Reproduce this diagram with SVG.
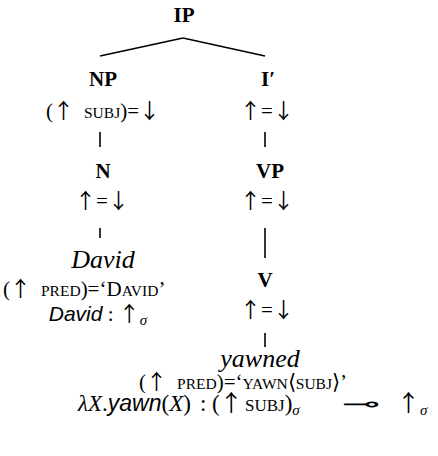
<svg xmlns="http://www.w3.org/2000/svg" width="438" height="456" viewBox="0 0 438 456">
<style>
text{font-family:"Liberation Serif","Times New Roman",serif;fill:#000;text-anchor:middle;font-size:21px}
.cat{font-size:21px;font-weight:bold}
.sc{font-size:15.5px}
.ar{font-family:"Noto Sans CJK JP","Noto Sans",sans-serif;font-size:21px}
.lex{font-style:italic;font-size:26px}
.sans{font-family:"Liberation Sans",Arial,sans-serif;font-style:italic}
.it{font-style:italic}
.sub{font-size:15px;font-style:italic}
.lolli{font-family:"DejaVu Sans",sans-serif;font-size:21px}
.lam{text-anchor:start;font-size:23px}
.lam .sc{font-size:17px}
.lam .ar{font-size:23px}
line{stroke:#000;stroke-width:1.6}
</style>
<rect width="438" height="456" fill="#fff"/>
<g id="connectors">
<line x1="183" y1="38" x2="100" y2="56"/>
<line x1="183" y1="38" x2="265" y2="56"/>
<line x1="100" y1="132" x2="100" y2="147"/>
<line x1="265" y1="132" x2="265" y2="147"/>
<line x1="100" y1="228" x2="100" y2="238"/>
<line x1="265" y1="228" x2="265" y2="258"/>
<line x1="265" y1="333" x2="265" y2="347"/>
</g>
<g id="IP"><text class="cat" x="184" y="22">IP</text></g>
<g id="NP"><text class="cat" x="103" y="86">NP</text>
<text x="103" y="118">(<tspan class="ar">↑</tspan><tspan class="sc" dx="10">SUBJ</tspan>)=<tspan class="ar">↓</tspan></text></g>
<g id="Ibar"><text class="cat" x="268" y="86">I′</text>
<text x="267" y="118"><tspan class="ar">↑</tspan>=<tspan class="ar">↓</tspan></text></g>
<g id="N"><text class="cat" x="103" y="178">N</text>
<text x="102" y="208"><tspan class="ar">↑</tspan>=<tspan class="ar">↓</tspan></text></g>
<g id="VP"><text class="cat" x="270" y="178">VP</text>
<text x="267" y="208"><tspan class="ar">↑</tspan>=<tspan class="ar">↓</tspan></text></g>
<g id="David"><text class="lex" x="103" y="268">David</text>
<text x="3" y="296" style="text-anchor:start">(<tspan class="ar">↑</tspan><tspan class="sc" dx="10">PRED</tspan>)=‘D<tspan class="sc">AVID</tspan>’</text>
<text x="98" y="321"><tspan class="sans">David</tspan> : <tspan class="ar">↑</tspan><tspan class="sub" dy="4">σ</tspan></text></g>
<g id="V"><text class="cat" x="265" y="287">V</text>
<text x="267" y="317"><tspan class="ar">↑</tspan>=<tspan class="ar">↓</tspan></text></g>
<g id="yawned"><text class="lex" x="260" y="367">yawned</text>
<text x="243" y="389">(<tspan class="ar">↑</tspan><tspan class="sc" dx="10">PRED</tspan>)=‘<tspan class="sc">YAWN</tspan>⟨<tspan class="sc">SUBJ</tspan>⟩’</text>
<text class="lam" x="78" y="411"><tspan class="it">λX</tspan>.<tspan class="sans">yawn</tspan>(<tspan class="it">X</tspan>)<tspan x="200">:</tspan><tspan x="212">(</tspan><tspan class="ar">↑</tspan><tspan class="sc" x="245">SUBJ</tspan>)<tspan class="sub" dy="4">σ</tspan><tspan class="ar" x="397" dy="-4">↑</tspan><tspan class="sub" dy="4">σ</tspan></text>
<text class="lolli" transform="translate(361,411) scale(2.2,1)" x="0" y="0">⊸</text></g>
</svg>
